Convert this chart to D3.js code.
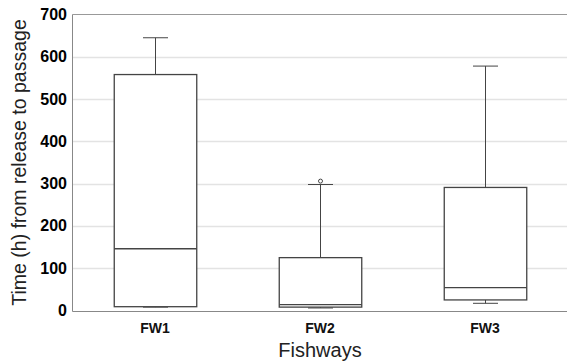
<!DOCTYPE html>
<html>
<head>
<meta charset="utf-8">
<script src="https://cdn.jsdelivr.net/npm/d3@7"></script>
<style>
  body { margin: 0; background: #fff; }
  text { font-family: "Liberation Sans", Arial, sans-serif; }
</style>
</head>
<body>
<div id="chart"></div>
<script>
var categories = ["FW1", "FW2", "FW3"];
var whiskerLow = [8, 6, 17];
var q1 = [9, 8, 25];
var median = [146, 14, 54];
var q3 = [558, 125, 291];
var whiskerHigh = [645, 298, 578];
var outliers = [[], [306], []];
var yTicks = [0, 100, 200, 300, 400, 500, 600, 700];

var w = 567,
  h = 363;
var plotLeft = 72.5,
  plotRight = 567.5,
  plotTop = 14.5,
  plotBottom = 310.5;

var svg = d3.select("#chart").append("svg").attr("width", w).attr("height", h);

var x = d3.scaleBand().domain(categories).range([plotLeft, plotRight]).padding(0);
var y = d3.scaleLinear().domain([0, 700]).range([plotBottom, plotTop]);

// gridlines
svg
  .selectAll("line.grid")
  .data(yTicks.slice(1, -1))
  .enter()
  .append("line")
  .attr("class", "grid")
  .attr("x1", plotLeft)
  .attr("x2", plotRight)
  .attr("y1", function (d) {
    return Math.round(y(d)) + 0.5;
  })
  .attr("y2", function (d) {
    return Math.round(y(d)) + 0.5;
  })
  .style("stroke", "#e3e3e3")
  .style("stroke-width", 1.5);

// frame lines
svg.append("line").attr("x1", plotLeft).attr("x2", plotRight).attr("y1", y(700)).attr("y2", y(700)).style("stroke", "#999");
svg.append("line").attr("x1", plotLeft).attr("x2", plotRight).attr("y1", plotBottom + 1).attr("y2", plotBottom + 1).style("stroke", "#888");
svg.append("line").attr("x1", plotLeft).attr("x2", plotLeft).attr("y1", y(700)).attr("y2", plotBottom + 1).style("stroke", "#888");

// y tick labels
svg
  .selectAll("text.ytick")
  .data(yTicks)
  .enter()
  .append("text")
  .attr("class", "ytick")
  .attr("x", 67)
  .attr("y", function (d) {
    return y(d) + 5.5;
  })
  .attr("text-anchor", "end")
  .style("font-size", "16px")
  .style("font-weight", "bold")
  .style("fill", "#000")
  .text(function (d) {
    return d;
  });

// x tick labels
svg
  .selectAll("text.xtick")
  .data(categories)
  .enter()
  .append("text")
  .attr("class", "xtick")
  .attr("x", function (d) {
    return x(d) + x.bandwidth() / 2;
  })
  .attr("y", 333)
  .attr("text-anchor", "middle")
  .style("font-size", "14px")
  .style("font-weight", "bold")
  .style("fill", "#111")
  .text(function (d) {
    return d;
  });

var boxW = x.bandwidth() * 0.5,
  capW = 25,
  stroke = "#444";

var g = svg
  .selectAll("g.box")
  .data(categories)
  .enter()
  .append("g")
  .attr("class", "box");

g.each(function (d, i) {
  var sel = d3.select(this);
  var cx = Math.round(x(d) + x.bandwidth() / 2) + 0.5;
  // whiskers
  sel.append("line").attr("x1", cx).attr("x2", cx).attr("y1", y(whiskerHigh[i])).attr("y2", y(q3[i])).style("stroke", stroke);
  sel.append("line").attr("x1", cx).attr("x2", cx).attr("y1", y(q1[i])).attr("y2", y(whiskerLow[i])).style("stroke", stroke);
  sel.append("line").attr("x1", cx - capW / 2).attr("x2", cx + capW / 2).attr("y1", y(whiskerHigh[i])).attr("y2", y(whiskerHigh[i])).style("stroke", stroke);
  sel.append("line").attr("x1", cx - capW / 2).attr("x2", cx + capW / 2).attr("y1", y(whiskerLow[i])).attr("y2", y(whiskerLow[i])).style("stroke", stroke);
  // box
  sel
    .append("rect")
    .attr("x", cx - boxW / 2)
    .attr("y", y(q3[i]))
    .attr("width", boxW)
    .attr("height", y(q1[i]) - y(q3[i]))
    .style("fill", "#fff")
    .style("stroke", stroke)
    .style("stroke-width", 1.3);
  sel.append("line").attr("x1", cx - boxW / 2).attr("x2", cx + boxW / 2).attr("y1", y(median[i])).attr("y2", y(median[i])).style("stroke", stroke).style("stroke-width", 1.3);
  sel
    .selectAll("circle")
    .data(outliers[i])
    .enter()
    .append("circle")
    .attr("cx", cx)
    .attr("cy", function (v) {
      return y(v);
    })
    .attr("r", 2)
    .style("fill", "#fff")
    .style("stroke", stroke);
});

// axis titles
svg
  .append("text")
  .attr("x", x("FW2") + x.bandwidth() / 2)
  .attr("y", 357)
  .attr("text-anchor", "middle")
  .style("font-size", "20px")
  .style("fill", "#222")
  .text("Fishways");

svg
  .append("text")
  .attr("transform", "translate(26," + (plotTop + plotBottom) / 2 + ") rotate(-90)")
  .attr("text-anchor", "middle")
  .style("font-size", "19.5px")
  .style("fill", "#222")
  .text("Time (h) from release to passage");
</script>
</body>
</html>
